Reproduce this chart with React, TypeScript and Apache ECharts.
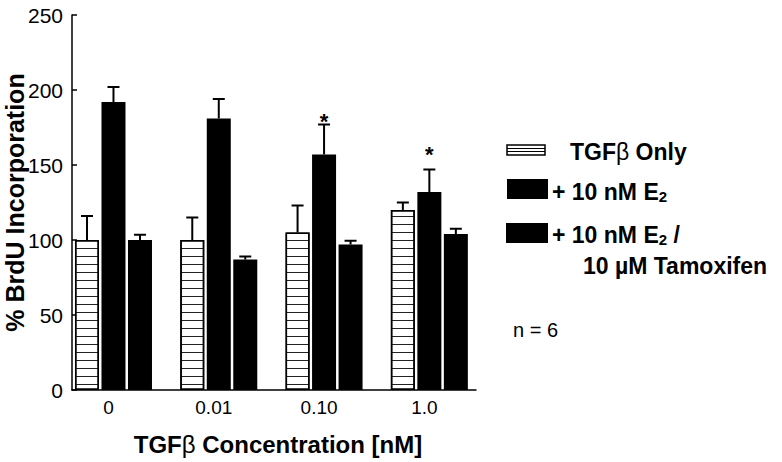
import React, { useEffect, useRef } from 'react';
import * as echarts from 'echarts';

// ---- data ----
const categories = ['0', '0.01', '0.10', '1.0'];
const categoryPositions = [0, 1, 2, 3];
const tgfOnly = [100, 100, 105, 120];
const tgfOnlyErr = [16, 15, 18, 5];
const e2 = [192, 181, 157, 132];
const e2Err = [10, 13, 20, 15];
const e2Tam = [100, 87, 97, 104];
const e2TamErr = [3.5, 2, 2.5, 3.5];
const asteriskCats = [2, 3];
const asteriskLevels = [182, 160];
const seriesNames = ['TGFβ Only', '+ 10 nM E2', '+ 10 nM E2 / 10 µM Tamoxifen'];

const FONT = '"Liberation Sans", Arial, Helvetica, sans-serif';
const BAR_W = 24;
const BAR_GAP = 2.5;

export default function App() {
  const ref = useRef<HTMLDivElement>(null);

  useEffect(() => {
    const chart = echarts.init(ref.current!, null, { renderer: 'svg' });
    const seriesVals = [tgfOnly, e2, e2Tam];
    const seriesErr = [tgfOnlyErr, e2Err, e2TamErr];
    const starData = asteriskCats.map((c, k) => [categoryPositions[c], asteriskLevels[k]]);

    const bold = (size: number) => ({ fontSize: size, fontWeight: 'bold', fontFamily: FONT, color: '#000' });
    const betaRich = (size: number) => ({ fontSize: size, fontWeight: 'normal', fontFamily: FONT, color: '#000' });

    const mkBar = (name: string, vals: number[], striped: boolean) => ({
      type: 'bar',
      name,
      data: vals.map((v, i) => [categoryPositions[i], v]),
      barWidth: BAR_W,
      barGap: `${(BAR_GAP / BAR_W) * 100}%`,
      itemStyle: striped
        ? {
            color: '#fff',
            borderColor: '#000',
            borderWidth: 1.5,
            decal: {
              symbol: 'rect',
              symbolSize: 1,
              dashArrayX: [1, 0],
              dashArrayY: [1, 6.5],
              rotation: 0,
              color: '#222',
              backgroundColor: '#fff',
            },
          }
        : { color: '#000', borderColor: '#000', borderWidth: 0 },
      emphasis: { disabled: true },
    });

    const mkErr = (s: number) => ({
      type: 'custom',
      name: 'error-' + s,
      data: seriesVals[s].map((v, i) => [categoryPositions[i], v, v + seriesErr[s][i]]),
      encode: { x: 0, y: [1, 2] },
      z: 5,
      silent: true,
      renderItem: (params: any, api: any) => {
        const x = api.value(0);
        const base = api.coord([x, api.value(1)]);
        const top = api.coord([x, api.value(2)]);
        const cx = base[0] + (s - 1) * (BAR_W + BAR_GAP);
        return {
          type: 'group',
          children: [
            { type: 'line', shape: { x1: cx, y1: base[1], x2: cx, y2: top[1] }, style: { stroke: '#000', lineWidth: 2 } },
            { type: 'line', shape: { x1: cx - 6, y1: top[1], x2: cx + 6, y2: top[1] }, style: { stroke: '#000', lineWidth: 2 } },
          ],
        };
      },
    });

    const legendText = (x: number, y: number, text: string, rich?: any) => ({
      type: 'text',
      x,
      y,
      style: {
        text,
        fontSize: 23,
        fontWeight: 'bold',
        fontFamily: FONT,
        fill: '#000',
        align: 'left',
        verticalAlign: 'middle',
        rich: rich || {},
      },
    });
    const subRich = {
      sub: { fontSize: 15, fontWeight: 'bold', fontFamily: FONT, fill: '#000', verticalAlign: 'bottom', lineHeight: 15 },
      b: { fontSize: 23, fontWeight: 'normal', fontFamily: FONT, fill: '#000' },
    };

    chart.setOption({
      animation: false,
      backgroundColor: '#fff',
      grid: { left: 72, top: 15, right: 306, bottom: 72, containLabel: false, outerBoundsMode: 'none' },
      xAxis: {
        type: 'value',
        min: -0.394,
        max: 3.443,
        axisLine: { show: true, onZero: false, lineStyle: { color: '#000', width: 1.5 } },
        axisTick: { show: false },
        splitLine: { show: false },
        axisLabel: {
          customValues: categoryPositions,
          formatter: (v: number) => categories[Math.round(v)],
          fontSize: 19,
          color: '#000',
          fontFamily: FONT,
          margin: 8,
          padding: [0, 10, 0, 0],
        },
        name: 'TGF{b|β} Concentration [nM]',
        nameLocation: 'middle',
        nameGap: 42,
        nameMoveOverlap: false,
        nameTextStyle: { ...bold(24), padding: [0, 0, 0, 8], rich: { b: betaRich(24) } },
      },
      yAxis: {
        type: 'value',
        min: 0,
        max: 250,
        interval: 50,
        axisLine: { show: true, onZero: false, lineStyle: { color: '#000', width: 1.5 } },
        axisTick: { show: true, inside: true, length: 5, lineStyle: { color: '#000', width: 1.5 } },
        splitLine: { show: false },
        axisLabel: { fontSize: 21, color: '#000', fontFamily: FONT, margin: 9 },
        name: '% BrdU Incorporation',
        nameLocation: 'middle',
        nameGap: 45,
        nameRotate: 90,
        nameMoveOverlap: false,
        nameTextStyle: bold(25),
      },
      series: [
        mkBar(seriesNames[0], tgfOnly, true),
        mkBar(seriesNames[1], e2, false),
        mkBar(seriesNames[2], e2Tam, false),
        mkErr(0),
        mkErr(1),
        mkErr(2),
        {
          type: 'custom',
          name: 'significance',
          data: starData,
          encode: { x: 0, y: 1 },
          z: 5,
          silent: true,
          renderItem: (params: any, api: any) => {
            const p = api.coord([api.value(0), api.value(1)]);
            return {
              type: 'text',
              x: p[0],
              y: p[1] + 4,
              style: { text: '*', fontSize: 22, fontWeight: 'bold', fontFamily: FONT, fill: '#000', align: 'center', verticalAlign: 'middle' },
            };
          },
        },
      ],
      graphic: [
        { type: 'rect', shape: { x: 507, y: 145, width: 38, height: 10 }, style: { fill: '#fff', stroke: '#000', lineWidth: 1.5 } },
        { type: 'line', shape: { x1: 507, y1: 148.5, x2: 545, y2: 148.5 }, style: { stroke: '#000', lineWidth: 1 } },
        { type: 'line', shape: { x1: 507, y1: 151.5, x2: 545, y2: 151.5 }, style: { stroke: '#000', lineWidth: 1 } },
        { type: 'rect', shape: { x: 507, y: 179, width: 41, height: 20 }, style: { fill: '#000' } },
        { type: 'rect', shape: { x: 506, y: 223, width: 42, height: 20 }, style: { fill: '#000' } },
        legendText(570, 152, 'TGF{b|β} Only', subRich),
        legendText(552, 192, '+ 10 nM E{sub|2}', subRich),
        legendText(552, 235, '+ 10 nM E{sub|2} /', subRich),
        legendText(583, 266, '10 µM Tamoxifen', subRich),
        {
          type: 'text',
          x: 513,
          y: 330,
          style: { text: 'n = 6', fontSize: 20, fontFamily: FONT, fill: '#000', align: 'left', verticalAlign: 'middle' },
        },
      ],
    });
    return () => chart.dispose();
  }, []);

  return <div ref={ref} style={{ position: 'absolute', left: 0, top: 0, width: 782, height: 462 }} />;
}
